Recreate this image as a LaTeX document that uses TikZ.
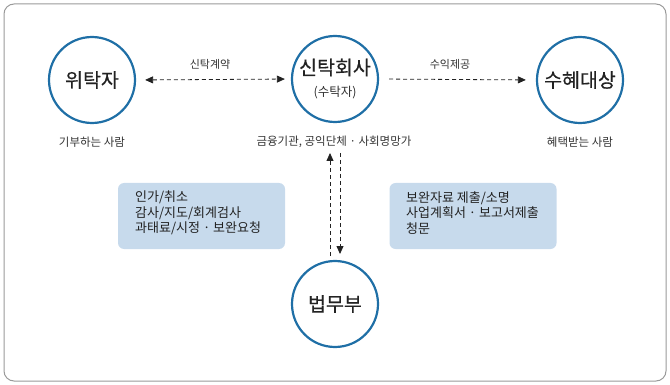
\documentclass[tikz,border=0pt]{standalone}
\usepackage{fontspec}
\setmainfont{Noto Sans CJK KR}
\newfontfamily\medfont{Noto Sans CJK KR}[FakeBold=0.5]
\usetikzlibrary{arrows.meta}
\definecolor{ringblue}{HTML}{1F6FA6}
\definecolor{boxblue}{HTML}{C7DAEC}
\definecolor{txt}{HTML}{222222}
\definecolor{subtxt}{HTML}{333333}
\definecolor{framegray}{HTML}{9A9A9A}
\tikzset{
  ring/.style={circle, draw=ringblue, line width=2.2pt, minimum size=86pt, inner sep=0pt, text=txt, font=\medfont\fontsize{19.5}{22}\selectfont, align=center},
  subcap/.style={text=subtxt, font=\fontsize{11.5}{13}\selectfont, inner sep=1pt},
  edgecap/.style={text=subtxt, font=\fontsize{11}{12}\selectfont, inner sep=1pt},
  infobox/.style={fill=boxblue, rounded corners=6pt, minimum width=167pt, minimum height=66pt, inner sep=0pt},
  boxtext/.style={text=txt, font=\fontsize{13}{15.5}\selectfont, align=left, inner sep=0pt, anchor=north west},
  flow/.style={dash pattern=on 4pt off 3pt, line width=0.8pt, draw=txt},
  tip/.style={-{Triangle[length=8pt,width=7pt]}},
  tips/.style={{Triangle[length=8pt,width=7pt]}-{Triangle[length=8pt,width=7pt]}}
}
\begin{document}
\begin{tikzpicture}[x=1pt,y=-1pt]
\useasboundingbox (0,0) rectangle (670,385);
\draw[framegray, line width=1pt, rounded corners=10pt] (4,4) rectangle (666,381);

\node[ring] (trustor) at (92,80) {위탁자};
\node[ring] (trustee) at (335,79) {\raisebox{3pt}{신탁회사}\\[-3pt]{\normalfont\fontsize{12.5}{14}\selectfont\color{subtxt}(수탁자)}};
\node[ring] (benef) at (580,80) {수혜대상};
\node[ring] (moj) at (335,304) {법무부};

\node[subcap] (trustorsub) at (92,142) {기부하는 사람};
\node[subcap] (trusteesub) at (334,142) {금융기관, 공익단체 · 사회명망가};
\node[subcap] (benefsub) at (580,142) {혜택받는 사람};

\draw[flow, tips, shorten <=9pt, shorten >=6pt] (trustor.east) -- (trustee.west);
\node[edgecap] (contract) at (210,64) {신탁계약};
\draw[flow, tip, shorten <=10pt, shorten >=10pt] (trustee.east) -- (benef.west);
\node[edgecap] (profit) at (450,64) {수익제공};

\coordinate (upS) at (330,256);
\coordinate (upE) at (330,153);
\coordinate (dnS) at (340,153);
\coordinate (dnE) at (340,254);
\draw[flow, tip] (upS) -- (upE);
\draw[flow, tip] (dnS) -- (dnE);

\node[infobox] (leftbox) at (201.5,216) {};
\node[boxtext] (lefttext) at (135,191) {인가/취소\\감사/지도/회계검사\\과태료/시정 · 보완요청};
\node[infobox] (rightbox) at (473,216) {};
\node[boxtext] (righttext) at (406,191) {보완자료 제출/소명\\사업계획서 · 보고서제출\\청문};
\end{tikzpicture}
\end{document}
